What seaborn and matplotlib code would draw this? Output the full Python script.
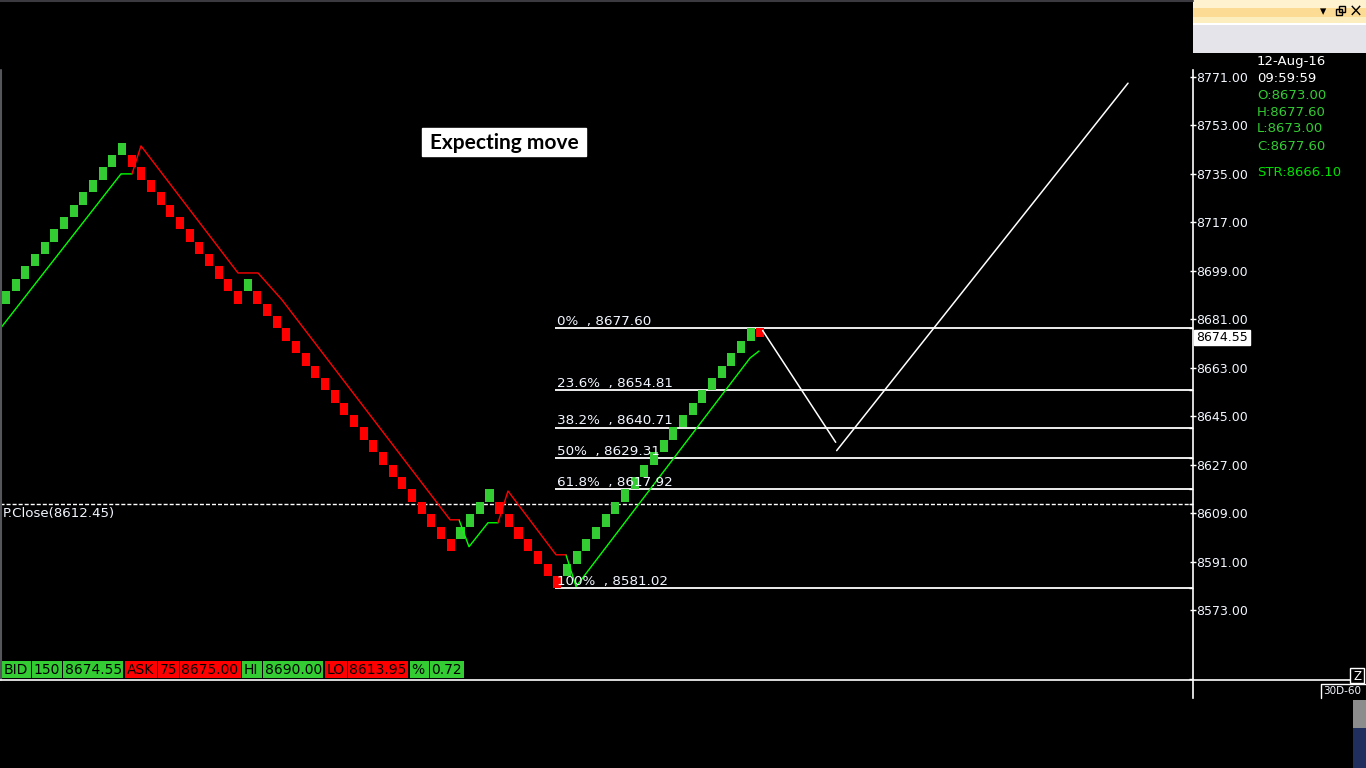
import matplotlib
matplotlib.use("Agg")
import matplotlib.pyplot as plt
import pandas as pd
import seaborn as sns
from matplotlib.patches import Rectangle

# renko bricks, one per column: U = up (green), D = down (red)
brick_dir = list("UUUUUUUUUUUUU" "DDDDDDDDDDDD" "U" "DDDDDDDDDDDDDDDDDDDDD"
                 "UUUU" "DDDDDDD" "UUUUUUUUUUUUUUUUUUUU" "D")
brick_low = [8686.8, 8691.4, 8696.0, 8700.6, 8705.2, 8709.8, 8714.4, 8719.0, 8723.6, 8728.2,
             8732.8, 8737.4, 8742.0,
             8737.4, 8732.8, 8728.2, 8723.6, 8719.0, 8714.4, 8709.8, 8705.2, 8700.6, 8696.0,
             8691.4, 8686.8,
             8691.4,
             8686.8, 8682.2, 8677.6, 8673.0, 8668.4, 8663.8, 8659.2, 8654.6, 8650.0, 8645.4,
             8640.8, 8636.2, 8631.6, 8627.0, 8622.4, 8617.8, 8613.2, 8608.6, 8604.0, 8599.4,
             8594.8,
             8599.4, 8604.0, 8608.6, 8613.2,
             8608.6, 8604.0, 8599.4, 8594.8, 8590.2, 8585.6, 8581.0,
             8585.6, 8590.2, 8594.8, 8599.4, 8604.0, 8608.6, 8613.2, 8617.8, 8622.4, 8627.0,
             8631.6, 8636.2, 8640.8, 8645.4, 8650.0, 8654.6, 8659.2, 8663.8, 8668.4, 8673.0,
             8674.55]
brick_size = [4.6] * 78 + [3.05]

# trailing stop lines (x = brick column)
up_stop_seg = [1, 1, 1, 2, 2, 2, 2, 3, 3, 3, 3]
up_stop_x = [-0.62, 11.89, 13.03, 46.85, 47.88, 49.84, 50.88, 57.91, 58.95, 76.94, 77.87]
up_stop_y = [8677.4, 8735.0, 8735.0, 8606.5, 8596.5, 8605.4, 8605.4, 8593.5, 8581.7, 8666.6, 8669.2]
dn_stop_seg = [1, 1, 1, 1, 1, 1, 1, 2, 2, 2, 2]
dn_stop_x = [13.03, 13.96, 23.99, 26.06, 28.54, 45.92, 46.85, 50.88, 51.91, 56.88, 57.91]
dn_stop_y = [8735.0, 8745.4, 8698.2, 8698.2, 8688.2, 8606.5, 8606.5, 8605.4, 8617.2, 8593.5, 8593.5]

# hand drawn projection ("expecting move")
proj_seg = [1, 1, 2, 2]
proj_x = [78.25, 85.80, 85.90, 116.03]
proj_y = [8676.8, 8635.3, 8632.2, 8768.7]

# fibonacci retracement
fib_pct = ["0%", "23.6%", "38.2%", "50%", "61.8%", "100%"]
fib_val = [8677.60, 8654.81, 8640.71, 8629.31, 8617.92, 8581.02]
prev_close = 8612.45
last_price = 8674.55
bottom_line = 8547.4

axis_ticks = [8573, 8591, 8609, 8627, 8645, 8663, 8681, 8699, 8717, 8735, 8753, 8771]

info_text = ["12-Aug-16", "09:59:59", "O:8673.00", "H:8677.60", "L:8673.00", "C:8677.60", "STR:8666.10"]
status_text = ["BID", "150", "8674.55", "ASK", "75", "8675.00", "HI", "8690.00",
               "LO", "8613.95", "%", "0.72"]
status_side = ["g", "g", "g", "r", "r", "r", "g", "g", "r", "r", "g", "g"]

GREEN = "#33cc33"
RED = "#ff0000"
TXT = "#f2f6ff"

sns.set_theme(style="dark", rc={"axes.facecolor": "black", "figure.facecolor": "black"})
plt.rcParams["font.family"] = ["DejaVu Sans"]

fig = plt.figure(figsize=(13.66, 7.68), dpi=100)
ax = fig.add_axes([0, 0, 1193 / 1366, 1])
ax.set_xlim(-0.62, 122.75)
ax.set_ylim(8514.3, 8799.6)

# bricks
cols = list(range(len(brick_low)))
ax.bar(cols, brick_size, bottom=brick_low, width=0.83, linewidth=0,
       color=[GREEN if d == "U" else RED for d in brick_dir], zorder=3)

up_df = pd.DataFrame({"x": up_stop_x, "y": up_stop_y, "seg": up_stop_seg})
dn_df = pd.DataFrame({"x": dn_stop_x, "y": dn_stop_y, "seg": dn_stop_seg})
pj_df = pd.DataFrame({"x": proj_x, "y": proj_y, "seg": proj_seg})
sns.lineplot(data=up_df, x="x", y="y", units="seg", estimator=None, sort=False,
             color="#00ff00", lw=1, ax=ax, legend=False, zorder=4)
sns.lineplot(data=dn_df, x="x", y="y", units="seg", estimator=None, sort=False,
             color=RED, lw=1, ax=ax, legend=False, zorder=4)
sns.lineplot(data=pj_df, x="x", y="y", units="seg", estimator=None, sort=False,
             color="white", lw=1.1, ax=ax, legend=False, zorder=4)

# fib levels
fib_start = 56.77
ax.hlines(fib_val, fib_start, 122.75, color="white", lw=1.3, zorder=2)
for pct, v in zip(fib_pct, fib_val):
    ax.text(56.98, v + 1.2, f"{pct}  , {v:.2f}", color=TXT, fontsize=9.7,
            va="baseline", ha="left", zorder=5)

ax.axhline(prev_close, color="white", lw=1, ls=(0, (2.9, 1.45)), zorder=2)
ax.text(-0.35, prev_close - 1.3, f"P.Close({prev_close:.2f})", color=TXT,
        fontsize=9.6, va="top", ha="left")

# right price axis
for s in ["top", "left", "bottom"]:
    ax.spines[s].set_visible(False)
ax.spines["right"].set_color("white")
ax.spines["right"].set_linewidth(1.2)
ax.spines["right"].set_bounds(8540.3, 8773.6)
ax.yaxis.tick_right()
ax.set_yticks(axis_ticks)
ax.set_yticklabels([f"{v:.2f}" for v in axis_ticks])
ax.set_yticks(fib_val + [prev_close, bottom_line], minor=True)
ax.tick_params(axis="y", which="major", colors="white", direction="inout",
               length=5, width=1, pad=0, labelsize=9, labelcolor=TXT)
ax.tick_params(axis="y", which="minor", colors="white", direction="in",
               length=3, width=1)
ax.set_xticks([])
ax.set_xlabel("")
ax.set_ylabel("")
ax.grid(False)

# screen chrome in pixel coordinates
ui = fig.add_axes([0, 0, 1, 1])
ui.set_xlim(0, 1366)
ui.set_ylim(768, 0)
ui.axis("off")
ui.patch.set_alpha(0)

ui.plot([0, 1193], [0.5, 0.5], color="#3a3a40", lw=1.5)
ui.plot([0.5, 0.5], [70, 680], color="#55555c", lw=1.5)
ui.plot([0, 1350], [679.5, 679.5], color="white", lw=1.2)

# "Expecting move" note
ui.add_patch(Rectangle((422, 128), 164, 28, color="white", zorder=3))
ui.text(504, 143, "Expecting move", color="black", fontsize=15, fontweight="bold",
        family="Lato", ha="center", va="center", zorder=4)

# last price box
ui.add_patch(Rectangle((1194, 330), 56, 15, color="white", zorder=3))
ui.text(1196, 337.5, f"{last_price:.2f}", color="black", fontsize=9, ha="left",
        va="center", zorder=4)

# top right panel
ui.add_patch(Rectangle((1193, 0), 173, 8, color="#fff2cf", lw=0))
ui.add_patch(Rectangle((1193, 8), 173, 9, color="#fcdc95", lw=0))
ui.add_patch(Rectangle((1193, 17), 173, 6, color="#fdeebf", lw=0))
ui.add_patch(Rectangle((1193, 23), 173, 1.5, color="white", lw=0))
ui.add_patch(Rectangle((1193, 24.5), 173, 28, color="#e4e4ea", lw=0))
ui.text(1323, 12, "\u25be", color="black", fontsize=9, ha="center", va="center")
ui.add_patch(Rectangle((1336, 9), 6, 6, fill=False, ec="black", lw=1))
ui.add_patch(Rectangle((1339, 6), 6, 6, fill=False, ec="black", lw=1))
ui.text(1356, 12, "\u00d7", color="black", fontsize=12, ha="center", va="center")

info_y = [62, 78, 95.5, 112.5, 129, 146, 172]
info_c = ["white", "white", GREEN, GREEN, GREEN, GREEN, "#00e000"]
for t, y, c in zip(info_text, info_y, info_c):
    ui.text(1257, y, t, color=c, fontsize=9.5, ha="left", va="center")

# status bar
cell_left = [2, 32, 63, 125, 158, 180, 242, 263, 325, 348, 410, 430]
cell_right = [31, 62, 123, 157, 179, 241, 262, 323, 347, 408, 429, 464]
for t, s, l, r in zip(status_text, status_side, cell_left, cell_right):
    ui.add_patch(Rectangle((l, 661), r - l, 17, color=GREEN if s == "g" else RED, lw=0))
    ui.text(l + 1.5, 669.5, t, color="black", fontsize=10, ha="left", va="center")

# bottom right widgets
ui.add_patch(Rectangle((1350, 668), 14, 15, fill=False, ec="white", lw=1))
ui.text(1357, 676, "Z", color="white", fontsize=8.5, ha="center", va="center")
ui.plot([1321, 1321, 1366], [698, 684, 684], color="white", lw=1)
ui.text(1323, 691.5, "30D-60", color=TXT, fontsize=7.5, ha="left", va="center")
ui.add_patch(Rectangle((1353, 700), 13, 28, color="#8c8c8c", lw=0))
ui.add_patch(Rectangle((1353, 728), 13, 40, color="#1f2e5c", lw=0))

fig.savefig("out.png", dpi=100, facecolor="black")
